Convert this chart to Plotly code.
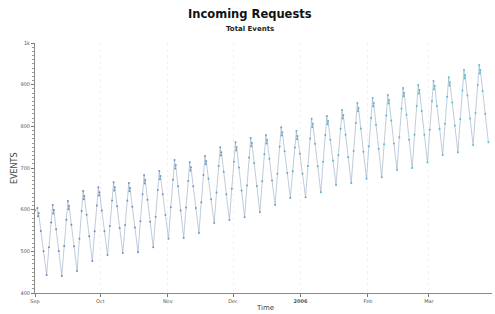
import pandas as pd
import plotly.graph_objects as go

# ---- data ----
first_peak = "2005-09-02 03:00"
lead_time = "2005-09-01 00:00"
lead_value = 598
# hours after each weekly peak at which a value is sampled
sample_hours = [0, 7, 13, 38, 67, 101, 127, 151]
weekly_events = [
    [604, 584, 592, 549, 500, 443, 510, 569],
    [611, 591, 599, 553, 501, 441, 513, 576],
    [621, 601, 609, 564, 512, 453, 530, 597],
    [645, 625, 633, 588, 536, 477, 548, 610],
    [654, 634, 642, 598, 548, 491, 561, 622],
    [666, 646, 654, 608, 556, 496, 563, 622],
    [664, 644, 652, 607, 557, 498, 572, 637],
    [683, 663, 671, 624, 571, 510, 583, 647],
    [693, 673, 681, 637, 587, 530, 606, 672],
    [719, 699, 707, 656, 598, 532, 605, 669],
    [714, 694, 702, 656, 604, 544, 618, 683],
    [729, 709, 717, 674, 625, 568, 641, 705],
    [750, 730, 738, 691, 637, 575, 650, 715],
    [762, 742, 750, 701, 646, 582, 658, 725],
    [772, 752, 760, 712, 657, 594, 668, 733],
    [779, 759, 767, 722, 670, 611, 686, 751],
    [798, 778, 786, 740, 688, 628, 692, 749],
    [789, 769, 777, 734, 686, 630, 705, 771],
    [818, 798, 806, 758, 704, 642, 715, 779],
    [825, 805, 813, 768, 718, 659, 731, 794],
    [839, 819, 827, 780, 726, 664, 741, 808],
    [856, 836, 844, 795, 739, 674, 752, 820],
    [868, 848, 856, 804, 746, 678, 757, 826],
    [875, 855, 863, 814, 759, 695, 774, 843],
    [892, 872, 880, 828, 768, 700, 780, 849],
    [899, 879, 887, 837, 780, 714, 792, 860],
    [909, 889, 897, 849, 794, 731, 806, 871],
    [918, 898, 906, 857, 802, 738, 817, 886],
    [935, 915, 923, 874, 819, 755, 832, 899],
    [947, 927, 935, 885, 830, 762],
]
x_tick_dates = ["2005-09-01", "2005-10-01", "2005-11-01", "2005-12-01",
                "2006-01-01", "2006-02-01", "2006-03-01"]
x_tick_labels = ["Sep", "Oct", "Nov", "Dec", "<b>2006</b>", "Feb", "Mar"]
y_tick_values = [400, 500, 600, 700, 800, 900, 1000]
y_tick_labels = ["400", "500", "600", "700", "800", "900", "1k"]

# ---- assemble series ----
week_starts = pd.date_range(first_peak, periods=len(weekly_events), freq="7D")
times = [pd.Timestamp(lead_time)]
events = [lead_value]
for start, week in zip(week_starts, weekly_events):
    for h, v in zip(sample_hours, week):
        times.append(start + pd.Timedelta(hours=h))
        events.append(v)

idx = list(range(len(events)))

fig = go.Figure()
fig.add_trace(go.Scatter(
    x=times, y=events, mode="lines",
    line=dict(color="rgba(150,170,195,0.6)", width=1),
    hoverinfo="skip", showlegend=False,
))
fig.add_trace(go.Scatter(
    x=times, y=events, mode="markers",
    marker=dict(size=2.0, color=idx,
                colorscale=[[0, "#7088b6"], [0.5, "#6aa6c6"], [1, "#4cc6d6"]],
                line=dict(width=0)),
    showlegend=False,
))

axis_font = dict(family="DejaVu Sans", size=5, color="#555555")

fig.update_layout(
    width=495, height=314,
    margin=dict(l=35, r=3, t=43, b=21),
    paper_bgcolor="white", plot_bgcolor="white",
    font=dict(family="DejaVu Sans", color="#222222"),
    xaxis=dict(
        type="date",
        range=["2005-09-01", "2006-03-30"],
        tickvals=x_tick_dates, ticktext=x_tick_labels,
        tickfont=axis_font,
        ticks="outside", ticklen=3, tickcolor="#777777",
        showline=True, linecolor="#8a8a8a", linewidth=1,
        showgrid=True, gridcolor="#f3f3f3", griddash="dot",
        zeroline=False,
    ),
    yaxis=dict(
        range=[400, 1000],
        tickvals=y_tick_values, ticktext=y_tick_labels,
        tickfont=axis_font,
        ticks="outside", ticklen=3, tickcolor="#777777",
        minor=dict(dtick=10, ticks="outside", ticklen=2, tickcolor="#999999"),
        showline=True, linecolor="#8a8a8a", linewidth=1,
        showgrid=False,
        zeroline=False,
    ),
    annotations=[
        dict(text="<b>Incoming Requests</b>", x=0.47, y=1.116, xref="paper", yref="paper",
             showarrow=False, xanchor="center", yanchor="middle",
             font=dict(family="DejaVu Sans", size=11.5, color="#111111")),
        dict(text="<b>Total Events</b>", x=0.47, y=1.056, xref="paper", yref="paper",
             showarrow=False, xanchor="center", yanchor="middle",
             font=dict(family="DejaVu Sans", size=7, color="#222222")),
        dict(text="EVENTS", x=-0.046, y=0.5, xref="paper", yref="paper",
             showarrow=False, xanchor="center", yanchor="middle", textangle=-90,
             font=dict(family="DejaVu Sans", size=8, color="#444444")),
        dict(text="Time", x=0.503, y=-0.06, xref="paper", yref="paper",
             showarrow=False, xanchor="center", yanchor="middle",
             font=dict(family="DejaVu Sans", size=7, color="#444444")),
    ],
)

fig.write_html(
    "out.html",
    config={"displayModeBar": False},
    post_script="document.body.style.margin='0';document.body.style.overflow='hidden';",
)
